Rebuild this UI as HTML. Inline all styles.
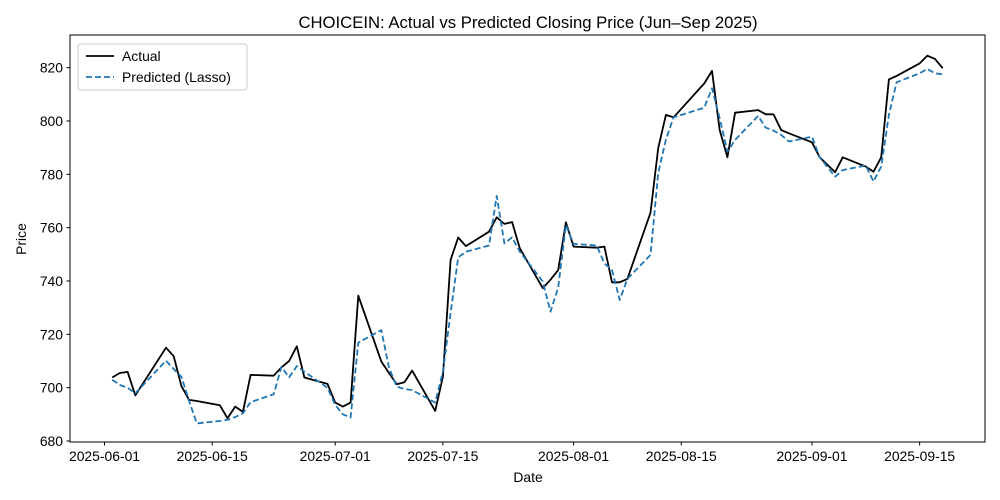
<!DOCTYPE html>
<html><head><meta charset="utf-8">
<style>
html,body{margin:0;padding:0;background:#fff;}
svg{display:block;font-family:"Liberation Sans","DejaVu Sans",sans-serif;}
</style></head>
<body>
<svg id="chart" width="1000" height="500" viewBox="0 0 1000 500" xmlns="http://www.w3.org/2000/svg">
<rect width="1000" height="500" fill="#fff"/>
<text x="528" y="28" font-size="16.7" text-anchor="middle">CHOICEIN: Actual vs Predicted Closing Price (Jun–Sep 2025)</text>
<text x="528" y="482" font-size="13.9" text-anchor="middle">Date</text>
<text x="26" y="239" font-size="13.9" text-anchor="middle" transform="rotate(-90 26 239)">Price</text>
<g id="grid"></g>
<g id="series"></g>
<rect x="70" y="35" width="915" height="407" fill="none" stroke="#000" stroke-width="1"/>
<g id="axes"></g>
<g>
<rect x="78" y="44" width="169" height="46" rx="3" fill="#fff" fill-opacity="0.8" stroke="#ccc"/>
<line x1="86" y1="56" x2="114" y2="56" stroke="#000" stroke-width="1.8"/>
<text x="122" y="61" font-size="13.9">Actual</text>
<line x1="86" y1="77" x2="114" y2="77" stroke="#1f77b4" stroke-width="1.8" stroke-dasharray="6,3"/>
<text x="122" y="82" font-size="13.9">Predicted (Lasso)</text>
</g>
</svg>
<script>
const dates = ["2025-06-02","2025-06-03","2025-06-04","2025-06-05","2025-06-09","2025-06-10","2025-06-11","2025-06-12","2025-06-13","2025-06-16","2025-06-17","2025-06-18","2025-06-19","2025-06-20","2025-06-23","2025-06-24","2025-06-25","2025-06-26","2025-06-27","2025-06-30","2025-07-01","2025-07-02","2025-07-03","2025-07-04","2025-07-07","2025-07-08","2025-07-09","2025-07-10","2025-07-11","2025-07-14","2025-07-15","2025-07-16","2025-07-17","2025-07-18","2025-07-21","2025-07-22","2025-07-23","2025-07-24","2025-07-25","2025-07-28","2025-07-29","2025-07-30","2025-07-31","2025-08-01","2025-08-04","2025-08-05","2025-08-06","2025-08-07","2025-08-08","2025-08-11","2025-08-12","2025-08-13","2025-08-14","2025-08-18","2025-08-19","2025-08-20","2025-08-21","2025-08-22","2025-08-25","2025-08-26","2025-08-27","2025-08-28","2025-08-29","2025-09-01","2025-09-02","2025-09-04","2025-09-05","2025-09-08","2025-09-09","2025-09-10","2025-09-11","2025-09-12","2025-09-15","2025-09-16","2025-09-17","2025-09-18"];
const actual = [703.8,705.5,705.9,697.1,715.0,711.8,700.6,695.4,695.0,693.4,688.5,692.9,690.9,704.8,704.5,707.6,710.0,715.5,703.8,701.4,694.4,692.9,694.4,734.5,709.8,705.5,701.3,702.0,706.4,691.3,704.1,747.9,756.3,753.1,758.5,763.9,761.4,762.1,752.3,737.3,740.5,744.1,762.0,752.9,752.5,752.9,739.5,739.5,740.8,765.6,789.8,802.3,801.4,814.1,818.8,796.6,786.4,803.1,804.1,802.5,802.5,796.6,795.4,792.0,786.4,780.8,786.4,782.9,781.0,786.4,815.6,816.9,821.6,824.5,823.3,819.8];
const predicted = [703.0,701.0,700.0,697.9,710.1,707.0,704.1,695.0,686.6,687.5,687.9,689.0,690.4,694.6,697.5,707.8,703.9,708.1,706.0,700.0,693.5,690.0,688.8,716.9,721.6,707.5,700.4,699.5,699.1,694.4,706.0,728.0,748.9,751.0,753.3,771.9,754.1,756.4,751.0,739.8,728.5,737.6,761.0,753.9,753.3,746.6,744.1,732.9,740.8,749.8,780.4,793.0,801.4,805.0,812.3,801.0,788.5,792.9,801.9,797.5,796.4,794.8,792.3,794.1,786.4,779.1,781.6,783.3,777.3,782.9,802.3,814.5,817.9,819.5,817.9,817.5];
const yTicks = [680,700,720,740,760,780,800,820];
const xTicks = ["2025-06-01","2025-06-15","2025-07-01","2025-07-15","2025-08-01","2025-08-15","2025-09-01","2025-09-15"];

const NS="http://www.w3.org/2000/svg";
const t0=Date.UTC(2025,5,1);
function dayOf(s){const p=s.split("-");return (Date.UTC(+p[0],+p[1]-1,+p[2])-t0)/86400000;}
function xScale(s){return 104.5+dayOf(s)*7.69;}
function yScale(v){return 441-(v-680)*2.6667;}
const axes=document.getElementById("axes");
function mk(tag,attrs,parent){const e=document.createElementNS(NS,tag);for(const k in attrs)e.setAttribute(k,attrs[k]);parent.appendChild(e);return e;}
yTicks.forEach(v=>{
  const y=yScale(v);
  const l=mk("line",{x1:66.5,x2:70,y1:y,y2:y,stroke:"#000","stroke-width":1},axes);
  
  
  const t=mk("text",{x:63,y:y+5,"font-size":13.9,"text-anchor":"end"},axes);
  t.textContent=v;
  
  
});
xTicks.forEach(d=>{
  const x=xScale(d);
  const l=mk("line",{x1:x,x2:x,y1:442,y2:445.5,stroke:"#000","stroke-width":1},axes);
  
  
  const t=mk("text",{x:x,y:461,"font-size":13.9,"text-anchor":"middle"},axes);
  t.textContent=d;
  
  
});
const series=document.getElementById("series");
function pts(arr){return arr.map((v,i)=>xScale(dates[i]).toFixed(1)+","+yScale(v).toFixed(1)).join(" ");}
const a=mk("polyline",{points:pts(actual),fill:"none",stroke:"#000","stroke-width":1.8,"stroke-linejoin":"round"},series);


const p=mk("polyline",{points:pts(predicted),fill:"none",stroke:"#1f77b4","stroke-width":1.8,"stroke-dasharray":"6,3","stroke-linejoin":"round"},series);


</script>
</body></html>
